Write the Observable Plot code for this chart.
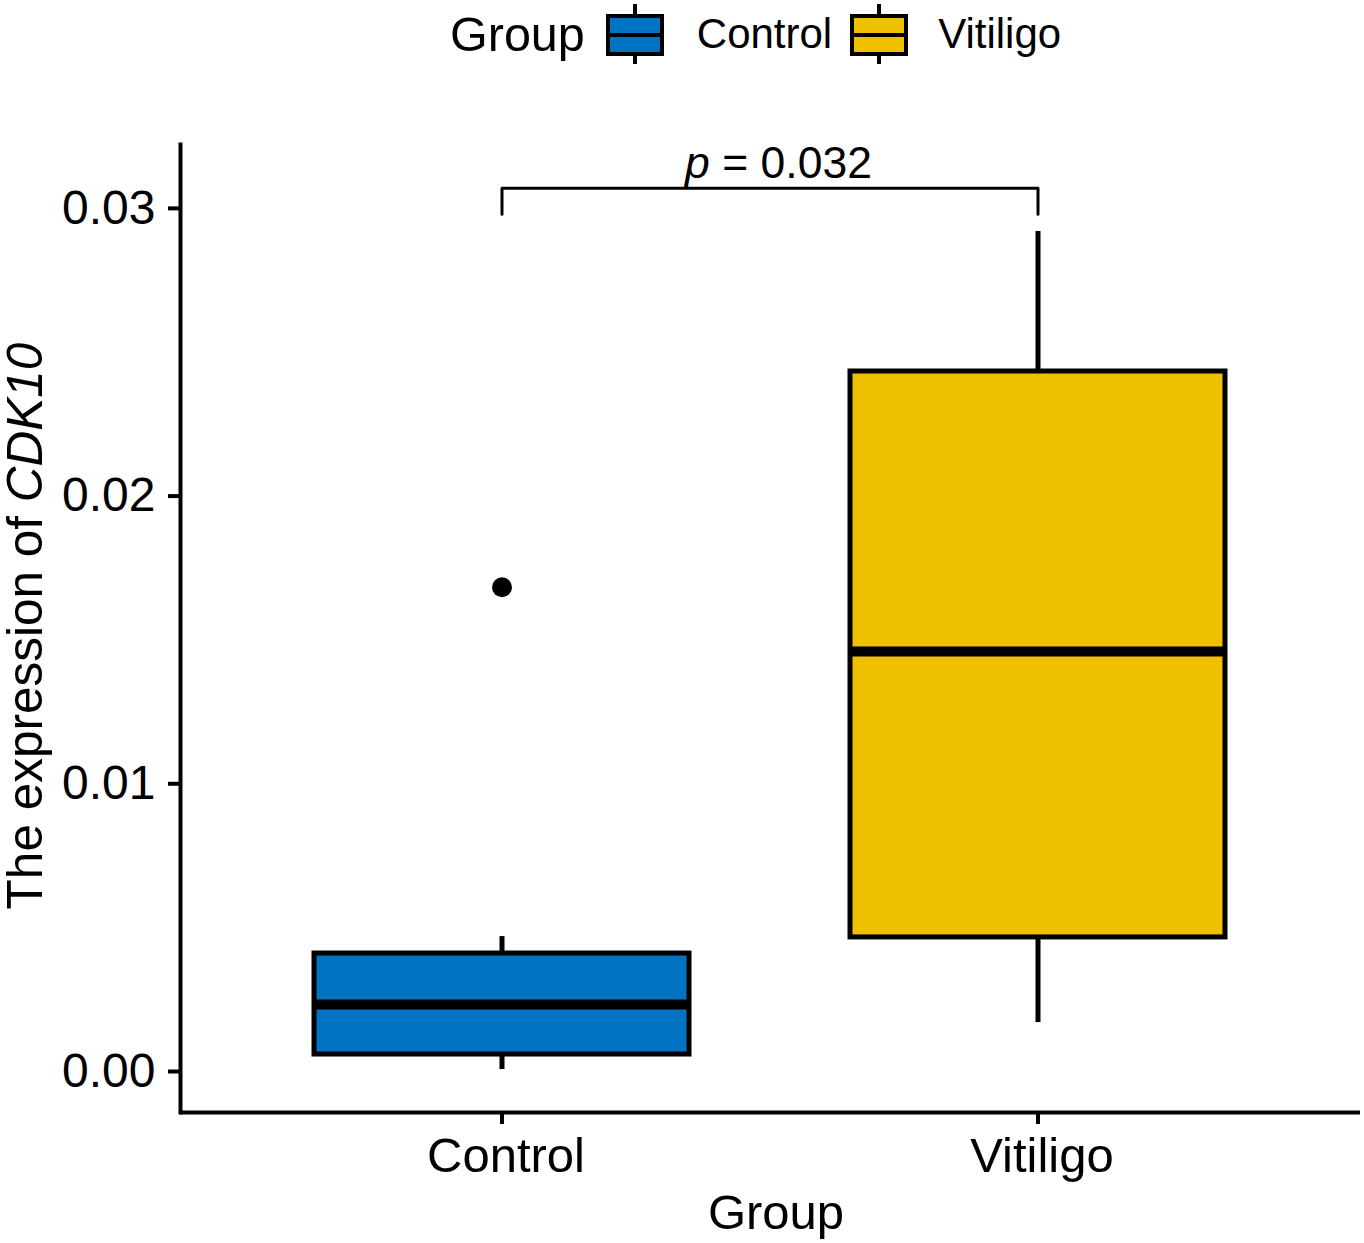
<!DOCTYPE html>
<html>
<head>
<meta charset="utf-8">
<script src="https://cdn.jsdelivr.net/npm/d3@7"></script>
<script src="https://cdn.jsdelivr.net/npm/@observablehq/plot@0.6"></script>
<style>
  html, body { margin: 0; padding: 0; background: #fff; }
  body { width: 1364px; height: 1243px; font-family: "Liberation Sans", Arial, sans-serif; }
  #legend { position: relative; width: 1364px; height: 80px; }
  #legend .row { position: absolute; left: 450px; top: 1px; height: 66px; display: flex; align-items: center; }
  #legend svg { display: block; }
</style>
</head>
<body>
<div id="legend"><div class="row"></div></div>
<div id="chart"></div>
<script>
// ---- data ----
const groups = ["Control", "Vitiligo"];
const groupColors = ["#0073C2", "#EFC000"];
const whiskerLow = [0.00007, 0.0017];
const quart1 = [0.00059, 0.00466];
const medians = [0.00233, 0.0146];
const quart3 = [0.0041, 0.02433];
const whiskerHigh = [0.00469, 0.0292];
const outlierGroups = ["Control"];
const outlierValues = [0.01683];
const yTicks = [0, 0.01, 0.02, 0.03];
const yDomain = [-0.001425, 0.03222];
const bracketGroups = ["Control", "Control", "Vitiligo", "Vitiligo"];
const bracketValues = [0.0298, 0.0307, 0.0307, 0.0298];
const pValueText = "0.032";
const xTitle = "Group";
const yTitleText = "The expression of ";
const yTitleGene = "CDK10";
const legendTitle = "Group";

const stats = groups.map((g, i) => ({
  group: g, lo: whiskerLow[i], q1: quart1[i], med: medians[i], q3: quart3[i], hi: whiskerHigh[i]
}));
const outliers = outlierGroups.map((g, i) => ({group: g, value: outlierValues[i]}));
const bracket = bracketGroups.map((g, i) => ({group: g, value: bracketValues[i]}));

const W = 1364, H = 1163;
const plot = Plot.plot({
  width: W,
  height: H,
  marginLeft: 180,
  marginRight: 4,
  marginTop: 64,
  marginBottom: 131,
  style: {fontFamily: '"Liberation Sans", Arial, sans-serif', fontSize: "48.5px", color: "black", background: "white", overflow: "visible"},
  x: {domain: groups, paddingInner: 0.3, paddingOuter: 0.25, label: null},
  y: {domain: yDomain, label: null},
  color: {domain: groups, range: groupColors},
  marks: [
    Plot.axisY({ticks: yTicks, tickFormat: d3.format(".2f"), tickSize: 12, tickPadding: 13, strokeWidth: 4, fill: "black", label: null, fontSize: 48}),
    Plot.axisX({tickSize: 12, tickPadding: 13, strokeWidth: 4, fill: "black", label: null, fontSize: 49, textStroke: "none"}),
    Plot.ruleY([yDomain[0]], {stroke: "black", strokeWidth: 4}),
    Plot.frame({anchor: "left", stroke: "black", strokeWidth: 4}),
    Plot.ruleX(stats, {x: "group", y1: "lo", y2: "q1", stroke: "black", strokeWidth: 5}),
    Plot.ruleX(stats, {x: "group", y1: "q3", y2: "hi", stroke: "black", strokeWidth: 5}),
    Plot.barY(stats, {x: "group", y1: "q1", y2: "q3", fill: "group", stroke: "black", strokeWidth: 5}),
    Plot.tickY(stats, {x: "group", y: "med", stroke: "black", strokeWidth: 10}),
    Plot.dot(outliers, {x: "group", y: "value", r: 10, fill: "black", stroke: "none"}),
    Plot.line(bracket, {x: "group", y: "value", stroke: "black", strokeWidth: 3, curve: "linear"})
  ]
});
document.getElementById("chart").appendChild(plot);

// nudge x tick labels slightly right as in the reference rendering
d3.select(plot).selectAll('[aria-label="x-axis tick label"] text').attr("dx", 4);

// ---- annotations positioned with the plot's scales ----
const sx = plot.scale("x"), sy = plot.scale("y");
const cx = g => sx.apply(g) + sx.bandwidth / 2;
const svg = d3.select(plot);
const font = '"Liberation Sans", Arial, sans-serif';

const pt = svg.append("text")
  .attr("x", (cx(groups[0]) + cx(groups[1])) / 2 + 9)
  .attr("y", sy.apply(d3.max(bracketValues)) - 10)
  .attr("text-anchor", "middle")
  .attr("font-family", font).attr("font-size", 44.5).attr("fill", "black");
pt.append("tspan").attr("font-style", "italic").text("p");
pt.append("tspan").text(" = " + pValueText);

svg.append("text")
  .attr("x", (180 + (W - 4)) / 2 + 6)
  .attr("y", H - 14)
  .attr("text-anchor", "middle")
  .attr("font-family", font).attr("font-size", 49).attr("fill", "black")
  .text(xTitle);

const yt = svg.append("text")
  .attr("transform", `translate(42,${(64 + (H - 131)) / 2 - 2}) rotate(-90)`)
  .attr("text-anchor", "middle")
  .attr("font-family", font).attr("font-size", 49.5).attr("fill", "black");
yt.append("tspan").text(yTitleText);
yt.append("tspan").attr("font-style", "italic").text(yTitleGene);

// ---- legend ----
const row = d3.select("#legend .row");
row.append("span").style("font-size", "48.5px").style("margin-right", "20px").text(legendTitle);
groups.forEach((g, i) => {
  const k = row.append("svg").attr("width", 60).attr("height", 64).style("margin-right", i === 0 ? "32px" : "29px");
  k.append("line").attr("x1", 30).attr("x2", 30).attr("y1", 2).attr("y2", 62).attr("stroke", "black").attr("stroke-width", 4);
  k.append("rect").attr("x", 3).attr("y", 14).attr("width", 54).attr("height", 38)
    .attr("fill", groupColors[i]).attr("stroke", "black").attr("stroke-width", 4);
  k.append("line").attr("x1", 3).attr("x2", 57).attr("y1", 33).attr("y2", 33).attr("stroke", "black").attr("stroke-width", 4);
  row.append("span").style("font-size", "42px").style("margin-right", "17px").text(g);
});
</script>
</body>
</html>
